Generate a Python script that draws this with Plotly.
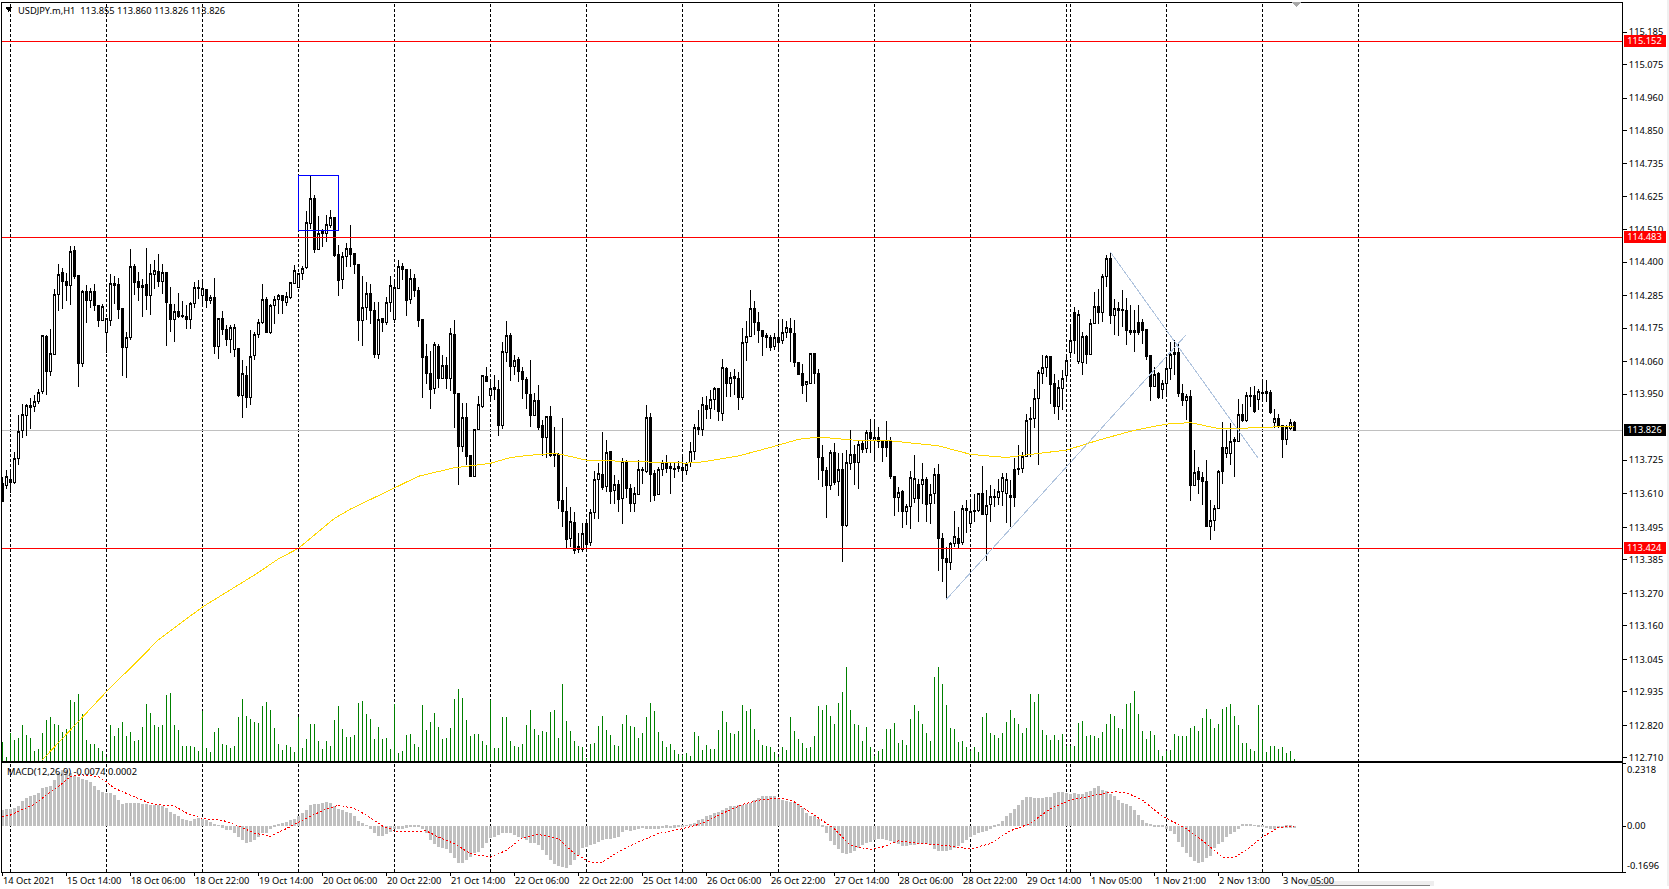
import plotly.graph_objects as go

high = [
113.668,113.691,113.691,113.752,113.878,113.918,113.918,113.938,113.946,113.969,
114.153,114.151,114.171,114.308,114.393,114.380,114.364,114.454,114.454,114.355,
114.306,114.323,114.313,114.327,114.253,114.259,114.208,114.361,114.352,114.346,
114.245,114.163,114.444,114.395,114.368,114.344,114.447,114.395,114.406,114.427,
114.395,114.365,114.316,114.259,114.295,114.267,114.253,114.263,114.333,114.338,
114.333,114.309,114.287,114.345,114.211,114.233,114.185,114.185,114.191,114.105,
114.066,114.045,114.170,114.162,114.206,114.327,114.281,114.259,114.286,114.291,
114.289,114.298,114.334,114.389,114.364,114.386,114.573,114.694,114.630,114.556,
114.514,114.562,114.577,114.552,114.460,114.435,114.467,114.526,114.429,114.393,
114.352,114.333,114.327,114.264,114.264,114.208,114.281,114.353,114.338,114.406,
114.397,114.376,114.378,114.361,114.316,114.205,114.120,114.096,114.129,114.120,
114.083,114.077,114.177,114.202,113.953,113.921,113.921,113.742,113.829,113.944,
114.017,114.043,114.000,114.017,113.997,114.128,114.199,114.160,114.083,114.077,
114.041,114.009,114.068,113.955,113.980,113.861,113.876,113.909,113.839,113.748,
113.869,113.634,113.566,113.549,113.475,113.511,113.526,113.558,113.689,113.714,
113.820,113.793,113.757,113.674,113.657,113.731,113.725,113.645,113.634,113.725,
113.702,113.912,113.886,113.691,113.702,113.725,113.742,113.714,113.716,113.723,
113.736,113.719,113.787,113.850,113.895,113.941,113.944,113.963,113.975,113.969,
114.071,114.043,114.026,114.037,114.026,114.177,114.200,114.304,114.267,114.230,
114.170,114.159,114.151,114.157,114.202,114.208,114.199,114.211,114.202,114.059,
114.052,113.995,114.088,114.088,114.037,113.776,113.702,113.759,113.782,113.748,
113.748,113.759,113.829,113.776,113.793,113.793,113.827,113.865,113.856,113.839,
113.793,113.858,113.804,113.670,113.634,113.623,113.577,113.687,113.742,113.662,
113.714,113.666,113.645,113.697,113.711,113.475,113.430,113.447,113.551,113.498,
113.572,113.589,113.583,113.611,113.611,113.705,113.623,113.640,113.628,113.662,
113.680,113.680,113.657,113.731,113.776,113.753,113.882,113.907,113.969,114.032,
114.083,114.085,114.080,114.020,113.997,114.032,114.083,114.179,114.247,114.236,
114.162,114.151,114.208,114.298,114.308,114.361,114.423,114.435,114.276,114.264,
114.304,114.279,114.253,114.236,114.253,114.205,114.170,114.083,114.043,114.024,
113.997,114.083,114.128,114.134,114.128,113.986,113.950,113.963,113.759,113.702,
113.685,113.725,113.589,113.572,113.693,113.856,113.827,113.852,113.804,113.933,
113.918,113.958,113.975,113.979,113.969,113.997,114.000,113.963,113.901,113.884,
113.844,113.844,113.865,113.860]

body_top = [
113.645,113.670,113.660,113.731,113.824,113.880,113.911,113.911,113.925,113.955,
114.151,114.147,114.088,114.289,114.358,114.364,114.334,114.437,114.440,114.355,
114.300,114.301,114.300,114.301,114.253,114.250,114.208,114.327,114.328,114.325,
114.243,114.144,114.385,114.386,114.335,114.321,114.325,114.362,114.371,114.367,
114.365,114.365,114.256,114.233,114.233,114.218,114.216,114.259,114.313,114.313,
114.310,114.308,114.279,114.279,114.208,114.209,114.171,114.177,114.177,114.105,
114.020,114.015,114.077,114.153,114.194,114.272,114.273,114.253,114.272,114.286,
114.286,114.283,114.331,114.371,114.361,114.378,114.535,114.616,114.616,114.497,
114.505,114.528,114.552,114.552,114.426,114.421,114.446,114.446,114.429,114.393,
114.247,114.293,114.293,114.236,114.205,114.208,114.262,114.319,114.313,114.385,
114.385,114.376,114.344,114.344,114.302,114.205,114.079,114.021,114.120,114.113,
114.049,114.049,114.156,114.154,113.953,113.871,113.871,113.742,113.829,113.915,
114.013,114.011,113.969,113.973,113.967,114.096,114.150,114.150,114.065,114.068,
114.028,114.001,113.950,113.928,113.928,113.844,113.874,113.875,113.748,113.745,
113.589,113.551,113.516,113.514,113.431,113.475,113.509,113.547,113.659,113.680,
113.677,113.751,113.753,113.642,113.642,113.719,113.719,113.628,113.611,113.693,
113.694,113.871,113.871,113.680,113.694,113.716,113.716,113.705,113.698,113.705,
113.701,113.710,113.754,113.836,113.836,113.915,113.911,113.932,113.969,113.969,
114.041,114.037,114.007,114.011,114.004,114.126,114.146,114.242,114.242,114.194,
114.168,114.151,114.143,114.143,114.143,114.160,114.177,114.175,114.156,114.059,
114.020,113.993,114.088,114.088,114.020,113.734,113.691,113.751,113.752,113.693,
113.694,113.717,113.744,113.744,113.778,113.783,113.820,113.820,113.802,113.802,
113.790,113.790,113.792,113.670,113.616,113.619,113.567,113.666,113.662,113.642,
113.660,113.660,113.608,113.676,113.676,113.458,113.391,113.442,113.466,113.458,
113.561,113.559,113.551,113.553,113.611,113.612,113.570,113.601,113.602,113.619,
113.667,113.660,113.605,113.693,113.698,113.739,113.860,113.867,113.935,114.024,
114.042,114.078,114.078,113.988,113.973,114.003,114.065,114.133,114.228,114.221,
114.146,114.147,114.191,114.249,114.249,114.351,114.412,114.412,114.242,114.242,
114.238,114.236,114.168,114.166,114.194,114.194,114.170,114.083,114.017,114.021,
113.986,114.037,114.086,114.092,114.093,113.952,113.942,113.941,113.683,113.687,
113.665,113.653,113.519,113.561,113.687,113.768,113.769,113.789,113.796,113.881,
113.882,113.945,113.945,113.946,113.960,113.957,113.959,113.955,113.867,113.867,
113.842,113.837,113.853,113.855]

body_bottom = [
113.583,113.637,113.648,113.649,113.731,113.825,113.876,113.903,113.907,113.925,
113.958,114.026,114.029,114.086,114.289,114.333,114.319,114.319,114.353,114.053,
114.053,114.268,114.271,114.251,114.202,114.202,114.162,114.200,114.322,114.239,
114.108,114.108,114.145,114.331,114.315,114.315,114.285,114.288,114.359,114.333,
114.333,114.264,114.203,114.206,114.216,114.216,114.203,114.203,114.259,114.309,
114.286,114.271,114.271,114.111,114.111,114.169,114.138,114.135,114.104,113.944,
113.944,113.937,113.937,114.082,114.153,114.194,114.162,114.162,114.252,114.272,
114.268,114.264,114.278,114.329,114.315,114.361,114.381,114.531,114.444,114.443,
114.497,114.497,114.526,114.423,114.336,114.340,114.421,114.427,114.393,114.200,
114.200,114.247,114.234,114.086,114.086,114.194,114.196,114.262,114.203,114.310,
114.376,114.271,114.273,114.302,114.200,114.075,114.019,113.965,113.968,114.005,
114.005,114.002,114.002,113.951,113.770,113.770,113.739,113.670,113.670,113.828,
113.907,113.994,113.944,113.965,113.842,113.842,114.091,114.043,114.043,114.026,
114.000,113.951,113.879,113.879,113.837,113.801,113.801,113.742,113.742,113.586,
113.549,113.456,113.457,113.418,113.422,113.422,113.439,113.443,113.546,113.659,
113.633,113.634,113.619,113.620,113.591,113.593,113.627,113.576,113.576,113.609,
113.689,113.685,113.677,113.606,113.609,113.693,113.698,113.698,113.692,113.698,
113.689,113.691,113.718,113.754,113.828,113.828,113.899,113.900,113.932,113.890,
113.884,113.988,113.988,114.002,113.937,113.937,114.126,114.146,114.193,114.166,
114.147,114.142,114.109,114.114,114.126,114.132,114.160,114.159,114.057,114.016,
113.980,113.983,113.988,114.019,113.733,113.689,113.637,113.637,113.649,113.651,
113.501,113.501,113.714,113.716,113.716,113.762,113.764,113.799,113.793,113.790,
113.768,113.768,113.668,113.597,113.597,113.549,113.549,113.566,113.594,113.594,
113.642,113.575,113.576,113.610,113.457,113.388,113.375,113.375,113.440,113.442,
113.443,113.555,113.509,113.549,113.552,113.540,113.540,113.574,113.597,113.597,
113.617,113.610,113.597,113.597,113.693,113.697,113.739,113.864,113.866,113.934,
114.020,114.041,113.983,113.907,113.907,113.969,114.015,114.091,114.133,114.060,
114.057,114.085,114.085,114.191,114.228,114.227,114.351,114.219,114.218,114.234,
114.234,114.168,114.162,114.159,114.162,114.168,114.080,113.975,113.975,113.937,
113.965,113.985,114.037,114.084,113.951,113.930,113.930,113.640,113.640,113.660,
113.651,113.500,113.500,113.518,113.559,113.686,113.749,113.749,113.787,113.787,
113.859,113.859,113.941,113.890,113.933,113.954,113.954,113.886,113.853,113.844,
113.796,113.796,113.832,113.826]

low = [
113.583,113.628,113.614,113.645,113.709,113.802,113.808,113.832,113.890,113.917,
113.949,113.947,114.012,114.083,114.234,114.239,114.268,114.254,114.342,113.975,
114.043,114.193,114.243,114.234,114.179,114.199,114.091,114.184,114.259,114.206,
114.011,114.005,114.134,114.287,114.268,114.213,114.236,114.219,114.310,114.316,
114.293,114.113,114.161,114.128,114.211,114.211,114.171,114.171,114.244,114.276,
114.251,114.244,114.259,114.088,114.070,114.153,114.114,114.092,114.077,113.941,
113.869,113.903,113.913,114.067,114.142,114.191,114.159,114.154,114.191,114.222,
114.222,114.251,114.276,114.325,114.312,114.338,114.378,114.514,114.431,114.440,
114.452,114.469,114.517,114.418,114.285,114.310,114.384,114.384,114.361,114.132,
114.114,114.202,114.188,114.075,114.070,114.162,114.185,114.230,114.194,114.308,
114.340,114.217,114.259,114.281,114.179,113.937,113.986,113.900,113.952,113.971,
114.001,113.969,113.961,113.835,113.640,113.753,113.708,113.668,113.668,113.827,
113.903,113.990,113.927,113.929,113.808,113.831,114.059,113.995,114.017,113.992,
113.932,113.899,113.839,113.878,113.829,113.740,113.731,113.736,113.702,113.557,
113.498,113.424,113.430,113.405,113.407,113.413,113.424,113.432,113.523,113.526,
113.623,113.617,113.577,113.577,113.549,113.506,113.597,113.549,113.549,113.606,
113.645,113.680,113.583,113.586,113.606,113.672,113.680,113.611,113.665,113.686,
113.661,113.676,113.702,113.725,113.810,113.808,113.867,113.867,113.895,113.859,
113.859,113.941,113.941,113.946,113.895,113.929,114.063,114.145,114.151,114.125,
114.080,114.109,114.096,114.099,114.094,114.122,114.142,114.060,114.043,114.015,
113.950,113.924,113.986,113.986,113.657,113.634,113.528,113.623,113.640,113.602,
113.379,113.498,113.691,113.640,113.626,113.748,113.748,113.748,113.725,113.768,
113.719,113.736,113.662,113.534,113.549,113.494,113.503,113.491,113.580,113.515,
113.577,113.515,113.507,113.577,113.348,113.308,113.250,113.350,113.430,113.424,
113.435,113.475,113.492,113.515,113.549,113.538,113.382,113.515,113.566,113.572,
113.568,113.511,113.498,113.566,113.674,113.680,113.736,113.736,113.833,113.708,
113.986,114.009,113.918,113.884,113.861,113.895,114.003,114.075,114.088,114.054,
114.015,114.054,114.083,114.188,114.191,114.196,114.316,114.188,114.151,114.147,
114.179,114.117,114.151,114.094,114.151,114.122,114.068,113.926,113.973,113.935,
113.932,113.952,114.000,114.015,113.941,113.910,113.861,113.586,113.640,113.609,
113.572,113.498,113.452,113.484,113.557,113.645,113.731,113.710,113.668,113.786,
113.856,113.856,113.907,113.887,113.895,113.927,113.924,113.884,113.833,113.836,
113.733,113.776,113.827,113.826]

# W = hollow (up) candle, B = filled (down) candle
candle_kind = (
"BWBWWWWBWW" "WBWWWBBWBB" "WBWBBWWWBB" "BWWBBBBWWB"
"WBBWBBBWWB" "WBWBWBBWWB" "WBWWWWBWWW" "BWWWWWWWBW"
"WWWBBWWBBB" "WWBBWBWWWW" "BBWBBBBBWB" "WBWBBWBBWW"
"WBWBBWWBWB" "BBBWBBWBBB" "BBWBWWBWWW" "BWBWBWBBWW"
"BWBBWWBBBB" "BWWWBWBWWB" "WBWBBWWWBB" "BBBWBWWBBB"
"BWWBBBBWBW" "BWWBWBWBWB" "BBBBWBWWWB" "WBWWBBBWWB"
"WBWBWBWWBW" "WWBBWWWWWW" "WWBBWWWWBW" "WBWWBWWBWB"
"BBWWBBBBWB" "WWWWBBWBWB" "BBWWWBWWWW" "BWBBWBBBWB"
"BWWB")

volume = [
58,14,84,64,69,109,79,69,32,37,
86,124,133,112,109,89,98,184,179,202,
142,64,52,52,39,31,14,109,76,100,
118,76,89,61,64,103,172,144,109,104,
109,199,205,109,94,46,46,46,44,32,
151,41,29,89,100,52,49,40,46,133,
187,136,127,117,114,166,178,154,100,52,
34,48,43,28,134,40,67,112,112,61,
37,61,46,124,166,97,73,73,79,175,
181,142,127,67,102,66,69,37,171,26,
32,79,82,52,42,169,94,117,145,104,
68,69,100,187,217,190,124,76,82,82,
61,49,184,39,39,133,133,61,46,43,
52,109,154,97,79,91,88,148,154,70,
232,121,91,61,46,43,10,52,55,106,
136,94,79,49,46,112,139,106,103,70,
85,133,175,151,89,61,43,52,34,21,
19,24,16,88,76,34,49,37,37,94,
151,118,85,82,91,169,151,157,97,64,
49,46,43,28,14,43,34,133,91,67,
55,40,43,76,166,154,169,136,112,175,
208,283,154,112,109,61,103,43,16,31,
37,97,97,115,55,64,49,127,169,151,
112,85,61,253,283,232,169,100,97,58,
61,43,31,43,28,133,145,85,79,70,
85,118,154,130,112,85,100,202,178,202,
94,79,64,79,64,82,46,46,46,115,
121,76,79,76,70,88,112,142,136,100,
97,172,175,211,142,91,67,91,79,34,
16,31,34,82,76,76,76,100,106,91,
130,157,127,100,112,157,163,172,136,109,
55,55,37,31,169,64,28,46,46,37,
43,25,31,7]

macd_hist = [
.059,.062,.062,.065,.072,.090,.103,.109,.114,.121,
.140,.142,.148,.168,.195,.207,.207,.195,.185,.180,
.174,.170,.162,.148,.133,.124,.121,.121,.115,.094,
.080,.086,.086,.086,.084,.080,.080,.077,.077,.077,
.075,.065,.051,.044,.035,.025,.020,.019,.025,.028,
.027,.022,.014,.007,.002,-.006,-.015,-.015,-.027,-.040,
-.052,-.062,-.058,-.052,-.040,-.027,-.027,-.011,-.002,.005,
.010,.015,.020,.025,.038,.049,.059,.077,.079,.082,
.084,.089,.084,.072,.063,.057,.053,.049,.035,.019,
.010,.001,-.011,-.027,-.036,-.036,-.030,-.021,-.012,-.011,
-.010,-.007,-.002,-.001,-.005,-.012,-.027,-.052,-.067,-.079,
-.083,-.086,-.101,-.120,-.136,-.136,-.126,-.114,-.101,-.095,
-.083,-.064,-.046,-.040,-.033,-.027,-.025,-.027,-.033,-.040,
-.046,-.052,-.062,-.064,-.070,-.089,-.107,-.126,-.141,-.147,
-.153,-.157,-.144,-.126,-.107,-.083,-.077,-.070,-.067,-.058,
-.052,-.048,-.048,-.046,-.040,-.021,-.015,-.017,-.015,-.012,
-.009,-.011,-.010,-.012,-.011,-.009,-.006,-.009,-.007,-.005,
-.002,.001,.006,.012,.020,.027,.035,.041,.047,.053,
.059,.065,.072,.075,.078,.078,.082,.086,.094,.103,
.110,.111,.111,.109,.101,.094,.090,.089,.089,.080,
.065,.049,.037,.035,.025,-.002,-.025,-.054,-.070,-.086,
-.101,-.104,-.099,-.093,-.080,-.070,-.064,-.058,-.052,-.049,
-.047,-.052,-.056,-.062,-.068,-.074,-.074,-.072,-.069,-.067,
-.067,-.067,-.072,-.084,-.093,-.093,-.093,-.089,-.083,-.074,
-.062,-.052,-.040,-.033,-.027,-.021,-.017,-.012,-.002,.007,
.019,.035,.047,.063,.078,.094,.106,.106,.103,.101,
.104,.106,.106,.121,.126,.124,.121,.119,.121,.117,
.119,.124,.130,.140,.146,.131,.128,.117,.109,.096,
.086,.080,.072,.057,.040,.022,.010,.004,-.002,-.005,
-.005,-.012,-.017,-.030,-.058,-.077,-.099,-.114,-.130,-.138,
-.132,-.120,-.111,-.083,-.068,-.058,-.040,-.030,-.021,-.011,
.004,.006,.005,.001,-.001,-.001,-.009,-.011,-.010,-.009,
-.009,-.006,-.006,-.0074]

signal_bar = [0,2,5,8,11,14,17,20,24,26,28,32,36,39,43,46,50,55,59,63,67,71,75,80,84,88,91,95,99,103,
106,109,113,117,122,126,130,134,139,143,147,150,154,159,164,170,175,180,185,190,195,198,203,208,212,
217,220,224,230,237,242,247,252,257,262,267,272,278,281,285,290,296,301,305,308,312,315,319,323]
signal_val = [.035,.041,.062,.080,.115,.146,.183,.189,.183,.164,.140,.115,.090,.079,.074,.049,.028,.022,.001,-.025,
-.037,-.009,.022,.057,.078,.065,.041,.001,-.021,-.021,-.017,-.040,-.064,-.101,-.114,-.089,-.043,-.030,-.046,-.101,
-.132,-.132,-.095,-.058,-.027,-.009,.010,.047,.080,.099,.103,.090,.041,-.009,-.070,-.086,-.077,-.054,-.064,-.073,
-.084,-.064,-.017,.010,.065,.096,.111,.127,.124,.096,.037,-.009,-.064,-.114,-.116,-.077,-.040,-.005,.0002]

ma_bar = [10,26,34,39,50,63,69,74,83,87,98,104,113,122,127,132,138,140,146,152,166,171,175,184,194,199,204,
210,214,222,234,242,251,259,266,274,283,291,297,304,309,315,323]
ma_val = [112.703,112.935,113.043,113.112,113.224,113.333,113.388,113.424,113.526,113.558,113.630,113.670,
113.699,113.714,113.734,113.742,113.748,113.744,113.725,113.722,113.717,113.715,113.719,113.739,113.776,
113.796,113.804,113.798,113.792,113.791,113.774,113.745,113.734,113.748,113.759,113.793,113.827,113.848,
113.853,113.833,113.833,113.837,113.840]

date_bars = list(range(0, 321, 16))
date_labels = ["14 Oct 2021","15 Oct 14:00","18 Oct 06:00","18 Oct 22:00","19 Oct 14:00","20 Oct 06:00",
"20 Oct 22:00","21 Oct 14:00","22 Oct 06:00","22 Oct 22:00","25 Oct 14:00","26 Oct 06:00","26 Oct 22:00",
"27 Oct 14:00","28 Oct 06:00","28 Oct 22:00","29 Oct 14:00","1 Nov 05:00","1 Nov 21:00","2 Nov 13:00","3 Nov 05:00"]
price_ticks = [115.185,115.075,114.960,114.850,114.735,114.625,114.510,114.400,114.285,114.175,114.060,113.950,
113.725,113.610,113.495,113.385,113.270,113.160,113.045,112.935,112.820,112.710]
separator_bars = [2,26,50,74,98,122,146,170,194,218,242,266,267,291,315,339]
red_levels = [115.152,114.483,113.424]
bid_price = 113.826

W, H = 1669, 889
L_PX, R_PX = 2, 1622
px = lambda v: v / W
py = lambda v: 1 - (1 + v * 1.0025) / H
FONT = "Noto Sans, Liberation Sans, sans-serif"
FS = 9.3
INK = "#000000"

n = len(high)
bars = list(range(n))
is_up = [k == "W" for k in candle_kind]
open_ = [b if u else t for u, t, b in zip(is_up, body_top, body_bottom)]
close = [t if u else b for u, t, b in zip(is_up, body_top, body_bottom)]

fig = go.Figure()
fig.add_trace(go.Bar(x=bars, y=volume, width=0.12, marker=dict(color="#008000", line=dict(width=0)),
                     xaxis="x", yaxis="y", hoverinfo="skip", showlegend=False))
fig.add_trace(go.Candlestick(x=bars, open=open_, high=high, low=low, close=close,
    increasing=dict(line=dict(color=INK, width=1), fillcolor="#ffffff"),
    decreasing=dict(line=dict(color=INK, width=1), fillcolor="#000000"),
    whiskerwidth=0, xaxis="x", yaxis="y2", hoverinfo="skip", showlegend=False))
fig.add_trace(go.Scatter(x=ma_bar, y=ma_val, mode="lines", line=dict(color="#ffd700", width=1),
                         xaxis="x", yaxis="y2", hoverinfo="skip", showlegend=False))
fig.add_trace(go.Bar(x=bars, y=macd_hist, width=0.75, marker=dict(color="#c0c0c0", line=dict(width=0)),
                     xaxis="x2", yaxis="y3", hoverinfo="skip", showlegend=False))
fig.add_trace(go.Scatter(x=signal_bar, y=signal_val, mode="lines", line=dict(color="#ff0000", width=1, dash="2px,2px"),
                         xaxis="x2", yaxis="y3", hoverinfo="skip", showlegend=False))

x_range = [(L_PX - 2.3) / 4, (R_PX - 2.3) / 4]
frame = dict(showline=True, linecolor=INK, linewidth=1, mirror=True, showgrid=False, zeroline=False)
fig.update_layout(
    width=W, height=H, autosize=False, margin=dict(l=0, r=0, t=0, b=0),
    paper_bgcolor="#ffffff", plot_bgcolor="#ffffff", showlegend=False, hovermode=False,
    bargap=0, boxgap=0.25, font=dict(family=FONT, size=FS, color=INK),
    xaxis=dict(domain=[px(L_PX), px(R_PX)], range=x_range, showticklabels=False, ticks="",
               rangeslider=dict(visible=False), anchor="y", **frame),
    xaxis2=dict(domain=[px(L_PX), px(R_PX)], range=x_range, tickmode="array", tickvals=date_bars,
                showticklabels=False, ticks="outside", ticklen=3, tickcolor=INK, anchor="y3", **frame),
    yaxis=dict(domain=[py(761), py(2)], range=[0, 2277], visible=False, fixedrange=True),
    yaxis2=dict(domain=[py(761), py(2)], range=[112.698, 115.284], overlaying="y", side="right", anchor="x",
                tickmode="array", tickvals=price_ticks, ticktext=[f"{v:.3f}" for v in price_ticks],
                ticks="outside", ticklen=4, tickcolor=INK, tickfont=dict(family=FONT, size=FS, color=INK), **frame),
    yaxis3=dict(domain=[py(872), py(763)], range=[-0.1696, 0.2318], side="right", anchor="x2",
                tickmode="array", tickvals=[-0.1696, 0, 0.2318], showticklabels=False,
                ticks="outside", ticklen=3, tickcolor=INK, **frame),
)

# date labels start at their ticks, as in the reference
for b, t in zip(date_bars, date_labels):
    fig.add_annotation(xref="x2", yref="paper", x=b, y=py(880.5), text=t, showarrow=False, xanchor="left",
                       yanchor="middle", borderpad=0, font=dict(family=FONT, size=FS, color=INK))

# period separators, drawn under the marks across both panes
for b in separator_bars:
    fig.add_shape(type="line", xref="x", yref="paper", x0=b, x1=b, y0=py(872), y1=py(2), layer="below",
                  line=dict(color=INK, width=1, dash="3px,2px"))
# horizontal levels
for lvl in red_levels:
    fig.add_shape(type="line", xref="paper", yref="y2", x0=px(L_PX), x1=px(R_PX), y0=lvl, y1=lvl,
                  line=dict(color="#ff0000", width=1))
    fig.add_annotation(xref="paper", yref="y2", x=px(1644.5), xanchor="center", y=lvl, yshift=1, text=f"{lvl:.3f}",
                       showarrow=False, bgcolor="#ff0000", width=41, height=11, borderpad=0,
                       font=dict(family=FONT, size=FS, color="#ffffff"))
fig.add_shape(type="line", xref="paper", yref="y2", x0=px(L_PX), x1=px(R_PX), y0=bid_price, y1=bid_price,
              layer="below", line=dict(color="#c0c0c0", width=1))
fig.add_annotation(xref="paper", yref="y2", x=px(1644.5), xanchor="center", y=bid_price, yshift=1, text=f"{bid_price:.3f}",
                   showarrow=False, bgcolor="#000000", width=41, height=11, borderpad=0,
                   font=dict(family=FONT, size=FS, color="#ffffff"))
# rectangle and trend lines
fig.add_shape(type="rect", xref="x", yref="y2", x0=74, x1=84, y0=114.508, y1=114.695,
              line=dict(color="#0000ff", width=1), fillcolor="rgba(0,0,0,0)")
fig.add_shape(type="line", xref="x", yref="y2", x0=236, x1=295.85, y0=113.250, y1=114.151,
              line=dict(color="#b0c4de", width=1))
fig.add_shape(type="line", xref="x", yref="y2", x0=277, x1=313.85, y0=114.435, y1=113.734,
              line=dict(color="#b0c4de", width=1))

def label(text, x, y, **kw):
    fig.add_annotation(xref="paper", yref="paper", x=px(x), y=py(y), text=text, showarrow=False,
                       xanchor="left", yanchor="middle", borderpad=0,
                       font=dict(family=FONT, size=FS, color=INK), **kw)

label("USDJPY.m,H1  113.855 113.860 113.826 113.826", 17, 9.7)
label("MACD(12,26,9) -0.0074 0.0002", 6, 771)
label("0.2318", 1626, 769)
label("0.00", 1626, 825.7)
label("-0.1696", 1626, 865)

# window furniture
fig.add_shape(type="path", xref="paper", yref="paper", fillcolor=INK, line=dict(width=0),
              path=f"M {px(5.5)} {py(6)} L {px(12)} {py(6)} L {px(8.75)} {py(11)} Z")
fig.add_shape(type="path", xref="paper", yref="paper", fillcolor="#a8a8a8", line=dict(width=0),
              path=f"M {px(1292)} {py(1)} L {px(1301)} {py(1)} L {px(1296.5)} {py(6)} Z")
fig.add_shape(type="rect", xref="paper", yref="paper", x0=px(1666.7), x1=1, y0=0, y1=1,
              fillcolor="#f0f0f0", line=dict(width=0))
fig.add_shape(type="rect", xref="paper", yref="paper", x0=px(1304), x1=px(1434), y0=0, y1=py(881),
              fillcolor="#eeeeee", line=dict(width=0))
fig.add_shape(type="rect", xref="paper", yref="paper", x0=px(1308), x1=px(1430), y0=0, y1=py(884.5),
              fillcolor="#808080", line=dict(width=0))

crisp = ("document.body.style.margin='0';document.body.style.overflow='hidden';"
         "var s=document.createElement('style');"
         "s.textContent='.main-svg path,.main-svg rect,.main-svg line{shape-rendering:crispEdges !important}';"
         "document.head.appendChild(s);")
fig.write_html("out.html", config=dict(displayModeBar=False), post_script=crisp)
